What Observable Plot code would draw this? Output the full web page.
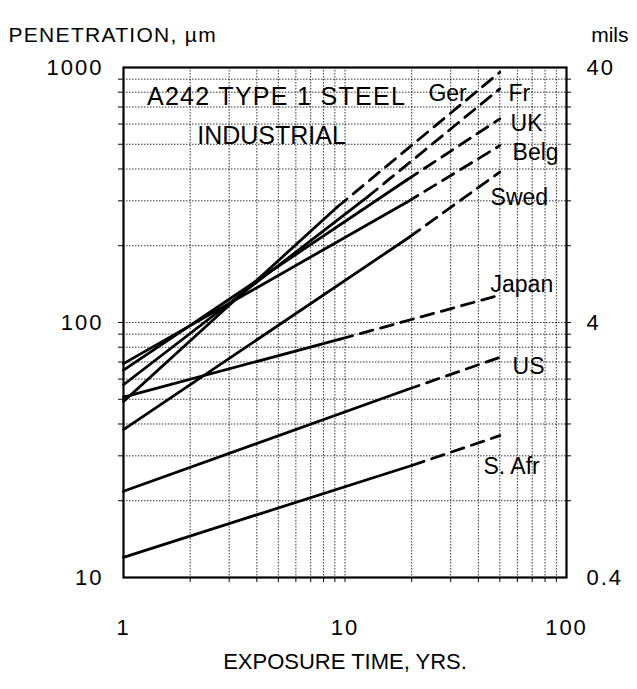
<!DOCTYPE html>
<html><head><meta charset="utf-8">
<script src="https://cdn.jsdelivr.net/npm/d3@7"></script>
<script src="https://cdn.jsdelivr.net/npm/@observablehq/plot@0.6"></script>
<style>
body{margin:0;background:#fff}
svg{font-family:"Liberation Sans",Arial,sans-serif}
g[aria-label$="tick label"] text{letter-spacing:2px}
g.spaced text{letter-spacing:1.3px}
</style>
</head><body><div id="chart"></div>
<script>
const countries = ["Ger","Fr","UK","Belg","Swed","Japan","US","S. Afr"];
// solid (measured) portion: [start, end]
const solidYears  = [[1,9.2],[1,12.6],[1,19],[1,19],[1,19.5],[1,9.5],[1,19],[1,20]];
const solidValues = [[49,283],[57,310],[65,362],[69,296],[38,216],[51,86],[21.8,54.5],[12,27.5]];
// dashed (extrapolated) portion ends
const dashEndYear = 50;
const dashEndValues = [958,825,629,494,389,128,73,36];
// label anchors (data coordinates)
const labelYears  = [23.8,54.7,55.9,57.1,45.4,45.4,57.1,42.2];
const labelValues = [791,791,603,464,309,141,67,27.2];

const xGridTicks = [2,3,4,5,6,7,8,9,10,20,30,40,50,60,70,80,90];
const yGridTicks = [20,30,40,50,60,70,80,90,100,200,300,400,500,600,700,800,900];
const xTickLabels = [1,10,100];
const yTickLabels = [10,100,1000];
const milsTickLabels = ["0.4","4","40"];

const titleLines = ["A242 TYPE 1 STEEL","INDUSTRIAL"];
const titleYears = [4.91,4.66];
const titleValues = [763,541];

const solidRows = [], dashRows = [];
countries.forEach((c,i)=>{
  solidYears[i].forEach((t,j)=>solidRows.push({country:c, year:t, value:solidValues[i][j]}));
  dashRows.push({country:c, year:solidYears[i][1], value:solidValues[i][1]});
  dashRows.push({country:c, year:dashEndYear, value:dashEndValues[i]});
});
const labelRows = countries.map((c,i)=>({name:c, year:labelYears[i], value:labelValues[i]}));

const chart = Plot.plot({
  width:637, height:689,
  marginLeft:123, marginRight:71, marginTop:67, marginBottom:112,
  x:{type:"log", domain:[1,100], label:null},
  y:{type:"log", domain:[10,1000], label:null},
  style:{fontFamily:"'Liberation Sans',Arial,sans-serif", fontSize:"22px", background:"white", color:"black"},
  marks:[
    Plot.gridX(xGridTicks,{stroke:"#000", strokeOpacity:0.9, strokeWidth:0.9, strokeDasharray:"1.5,1.5"}),
    Plot.gridY(yGridTicks,{stroke:"#000", strokeOpacity:0.9, strokeWidth:0.9, strokeDasharray:"1.5,1.5"}),
    Plot.axisX(xGridTicks,{tickSize:5, tickFormat:()=>"", label:null, strokeWidth:1}),
    Plot.axisY(yGridTicks,{tickSize:5, tickFormat:()=>"", label:null, strokeWidth:1}),
    Plot.axisY(yGridTicks,{anchor:"right", tickSize:4, tickFormat:()=>"", label:null, strokeWidth:1}),
    Plot.axisX(xTickLabels,{tickSize:0, tickPadding:42, tickFormat:d=>String(d), label:null, fontSize:22}),
    Plot.axisY(yTickLabels,{tickSize:0, tickPadding:20, tickFormat:d=>String(d), label:null, fontSize:22}),
    Plot.axisY(yTickLabels,{anchor:"right", tickSize:0, tickPadding:20, tickFormat:d=>milsTickLabels[yTickLabels.indexOf(d)], label:null, fontSize:22}),
    Plot.frame({stroke:"#000", strokeWidth:2.2}),
    Plot.line(solidRows,{x:"year", y:"value", z:"country", stroke:"#000", strokeWidth:2.8}),
    Plot.line(dashRows,{x:"year", y:"value", z:"country", stroke:"#000", strokeWidth:2.8, strokeDasharray:"13,8"}),
    Plot.text(labelRows,{x:"year", y:"value", text:"name", textAnchor:"start", fontSize:23, fill:"#000"}),
    Plot.text([titleLines[0]],{x:()=>titleYears[0], y:()=>titleValues[0], textAnchor:"middle", fontSize:25, fill:"#000", className:"spaced"}),
    Plot.text([titleLines[1]],{x:()=>titleYears[1], y:()=>titleValues[1], textAnchor:"middle", fontSize:25, fill:"#000"}),
    Plot.text(["PENETRATION, µm"],{frameAnchor:"top-left", dx:-115, dy:-40, textAnchor:"start", fontSize:21, fill:"#000", className:"spaced"}),
    Plot.text(["mils"],{frameAnchor:"top-right", dx:62, dy:-40, textAnchor:"end", fontSize:21, fill:"#000"}),
    Plot.text(["EXPOSURE TIME, YRS."],{frameAnchor:"bottom", dy:91, textAnchor:"middle", fontSize:22, fill:"#000"})
  ]
});
document.getElementById("chart").appendChild(chart);
</script>
</body></html>
